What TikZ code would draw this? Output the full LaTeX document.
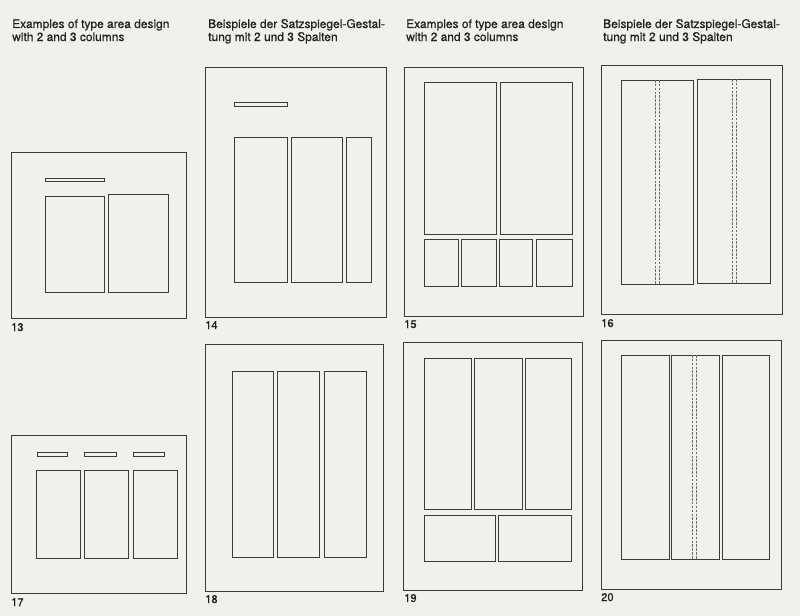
\documentclass[tikz,border=0pt]{standalone}
\usepackage{fontspec}
\setmainfont{TeX Gyre Heros}
\newfontfamily\inkfont{TeX Gyre Heros}[FakeBold=0.6]
\usepackage{tikz}
\definecolor{paper}{RGB}{242,240,235}
\definecolor{ink}{RGB}{62,60,58}
\definecolor{type}{RGB}{34,33,32}

\begin{document}
\begin{tikzpicture}[x=0.03cm,y=-0.03cm,
  page/.style={draw=ink,line width=0.65pt},
  col/.style={draw=ink,line width=0.55pt},
  dashline/.style={draw=ink!75,line width=0.4pt,dash pattern=on 2.2pt off 1.1pt},
  head/.style={anchor=base west,align=left,inner sep=0pt,text=type,
    font=\inkfont\fontsize{10.2}{11.1}\selectfont},
  num/.style={anchor=base west,inner sep=0pt,text=type,
    font=\inkfont\fontsize{9.5}{10}\selectfont}]
\fill [paper] (0,0) rectangle (800,616);
\useasboundingbox (0,0) rectangle (800,616);
% headings
\node [head] (headA) at (12,41) {Examples of type area design\\with 2 and 3 columns};
\node [head] (headB) at (208,41) {Beispiele der Satzspiegel-Gestal-\\tung mit 2 und 3 Spalten};
\node [head] (headC) at (406,41) {Examples of type area design\\with 2 and 3 columns};
\node [head] (headD) at (603,41) {Beispiele der Satzspiegel-Gestal-\\tung mit 2 und 3 Spalten};
% 13
\draw [page] (11,152) rectangle (186,318);
\draw [col] (45,178) rectangle (104,181);
\draw [col] (45,196) rectangle (104,292);
\draw [col] (108,194) rectangle (168,292);
\node [num] (n13) at (11,331) {13};
% 14
\draw [page] (205,67) rectangle (386,317);
\draw [col] (234,102) rectangle (287,106);
\draw [col] (234,137) rectangle (287,282);
\draw [col] (291,137) rectangle (342,282);
\draw [col] (346,137) rectangle (371,282);
\node [num] (n14) at (205,329) {14};
% 15
\draw [page] (404,67) rectangle (583,316);
\draw [col] (424,82) rectangle (496,234);
\draw [col] (500,82) rectangle (572,234);
\draw [col] (424,239) rectangle (458,286);
\draw [col] (461,239) rectangle (496,286);
\draw [col] (499,239) rectangle (532,286);
\draw [col] (536,239) rectangle (572,286);
\node [num] (n15) at (404,328) {15};
% 16
\draw [page] (601,65) rectangle (782,314);
\draw [col] (621,80) rectangle (693,284);
\draw [col] (697,79) rectangle (770,283);
\draw [dashline] (655,80) -- (655,284);
\draw [dashline] (659,80) -- (659,284);
\draw [dashline] (732,79) -- (732,283);
\draw [dashline] (736,79) -- (736,283);
\node [num] (n16) at (601,327) {16};
% 17
\draw [page] (11,435) rectangle (186,593);
\draw [col] (37,452) rectangle (67,456);
\draw [col] (84,452) rectangle (116,456);
\draw [col] (133,452) rectangle (164,456);
\draw [col] (36,470) rectangle (80,558);
\draw [col] (84,470) rectangle (128,558);
\draw [col] (133,470) rectangle (177,558);
\node [num] (n17) at (11,606) {17};
% 18
\draw [page] (205,344) rectangle (383,591);
\draw [col] (232,371) rectangle (273,557);
\draw [col] (277,371) rectangle (319,557);
\draw [col] (324,371) rectangle (366,557);
\node [num] (n18) at (205,603) {18};
% 19
\draw [page] (403,342) rectangle (582,590);
\draw [col] (424,358) rectangle (471,509);
\draw [col] (474,358) rectangle (522,509);
\draw [col] (525,358) rectangle (571,509);
\draw [col] (424,515) rectangle (495,561);
\draw [col] (498,515) rectangle (571,561);
\node [num] (n19) at (404,602) {19};
% 20
\draw [page] (601,340) rectangle (781,589);
\draw [col] (621,355) rectangle (669,559);
\draw [col] (671,355) rectangle (719,559);
\draw [col] (722,355) rectangle (769,559);
\draw [dashline] (692,355) -- (692,559);
\draw [dashline] (696,355) -- (696,559);
\node [num] (n20) at (601,601) {20};
\end{tikzpicture}
\end{document}
